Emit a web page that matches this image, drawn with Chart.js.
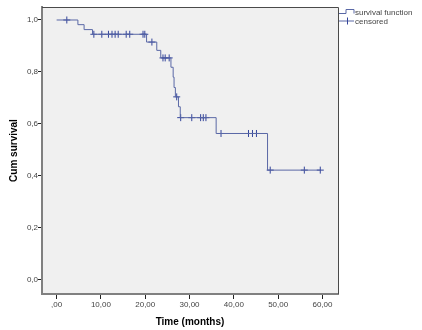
<!DOCTYPE html>
<html>
<head>
<meta charset="utf-8">
<script src="https://cdn.jsdelivr.net/npm/chart.js@4"></script>
<style>
html,body{margin:0;padding:0;background:#fff;}
#wrap{width:422px;height:330px;position:relative;}
</style>
</head>
<body>
<div id="wrap"><canvas id="c" width="422" height="330"></canvas></div>
<script>
// Kaplan-Meier step points (time of event, survival after event); last point = end of follow-up
const eventTimes = [0, 4.8, 6.2, 8.1, 20.3, 22.6, 23.5, 25.8, 26.3, 26.5, 26.8, 27.5, 27.9, 36.0, 47.6, 59.5];
const survival   = [1.0, 0.982, 0.963, 0.945, 0.915, 0.883, 0.854, 0.818, 0.780, 0.740, 0.704, 0.666, 0.624, 0.563, 0.422, 0.422];

// Censored observations
const censorTimes = [2.3, 8.4, 10.2, 11.7, 12.5, 13.2, 13.9, 15.7, 16.5, 19.5, 19.9, 21.5, 24.0, 24.5, 25.4, 27.1, 28.0, 30.5, 32.5, 33.1, 33.7, 37.1, 43.3, 44.2, 45.1, 48.2, 55.9, 59.5];
const censorSurv  = [1.0, 0.945, 0.945, 0.945, 0.945, 0.945, 0.945, 0.945, 0.945, 0.945, 0.945, 0.915, 0.854, 0.854, 0.854, 0.704, 0.624, 0.624, 0.624, 0.624, 0.624, 0.563, 0.563, 0.563, 0.563, 0.422, 0.422, 0.422];

// Tick values and labels
const xTickValues = [0, 10, 20, 30, 40, 50, 60];
const xTickLabels = [",00", "10,00", "20,00", "30,00", "40,00", "50,00", "60,00"];
const yTickValues = [0, 0.2, 0.4, 0.6, 0.8, 1.0];
const yTickLabels = ["0,0", "0,2", "0,4", "0,6", "0,8", "1,0"];

const seriesNames = ["survival function", "censored"];

const lineColor = '#5a68a6';
const censorColor = '#33449a';

const survData = eventTimes.map((t, i) => ({x: t, y: survival[i]}));
const censData = censorTimes.map((t, i) => ({x: t, y: censorSurv[i]}));

const bgPlugin = {
  id: 'plotBg',
  beforeDraw(chart) {
    const {ctx, chartArea: a} = chart;
    ctx.save();
    ctx.fillStyle = '#f0f0f0';
    ctx.fillRect(a.left, a.top, a.right - a.left, a.bottom - a.top);
    ctx.restore();
  },
  afterDraw(chart) {
    const {ctx, chartArea: a} = chart;
    ctx.save();
    ctx.strokeStyle = '#4a4a4a';
    ctx.lineWidth = 1;
    ctx.beginPath();
    ctx.moveTo(a.left, a.top + 0.5);
    ctx.lineTo(a.right + 0.5, a.top + 0.5);
    ctx.lineTo(a.right + 0.5, a.bottom);
    ctx.stroke();

    // legend
    const lx = a.right + 1;
    const y1 = 12.5, y2 = 21.5;
    ctx.strokeStyle = lineColor;
    ctx.beginPath();
    ctx.moveTo(lx, y1 + 1);
    ctx.lineTo(lx + 7, y1 + 1);
    ctx.lineTo(lx + 7, y1 - 3);
    ctx.lineTo(lx + 15, y1 - 3);
    ctx.lineTo(lx + 15, y1 + 1);
    ctx.stroke();
    ctx.beginPath();
    ctx.moveTo(lx, y2 - 0.5);
    ctx.lineTo(lx + 15, y2 - 0.5);
    ctx.stroke();
    ctx.strokeStyle = censorColor;
    ctx.beginPath();
    ctx.moveTo(lx + 8.5, y2 - 4);
    ctx.lineTo(lx + 8.5, y2 + 3);
    ctx.stroke();
    ctx.fillStyle = '#444';
    ctx.font = '8px "Liberation Sans", Arial, sans-serif';
    ctx.textBaseline = 'middle';
    ctx.textAlign = 'left';
    ctx.fillText(seriesNames[0], lx + 16, y1);
    ctx.fillText(seriesNames[1], lx + 16, y2);
    ctx.restore();
  }
};

new Chart(document.getElementById('c'), {
  type: 'line',
  data: {
    datasets: [
      {
        label: seriesNames[0],
        data: survData,
        stepped: true,
        borderColor: lineColor,
        borderWidth: 1,
        pointRadius: 0,
        fill: false
      },
      {
        label: seriesNames[1],
        data: censData,
        showLine: false,
        pointStyle: 'cross',
        pointRadius: 3.5,
        borderColor: censorColor,
        backgroundColor: censorColor,
        pointBorderWidth: 1
      }
    ]
  },
  plugins: [bgPlugin],
  options: {
    responsive: false,
    animation: false,
    devicePixelRatio: 1,
    layout: {padding: {top: 7, right: 84, left: 0, bottom: 0}},
    plugins: {legend: {display: false}, tooltip: {enabled: false}},
    scales: {
      x: {
        type: 'linear',
        min: -3.3,
        max: 63.5,
        afterBuildTicks(s) { s.ticks = xTickValues.map(v => ({value: v})); },
        afterFit(s) { s.height = 36; },
        ticks: {
          autoSkip: false,
          maxRotation: 0,
          padding: 1,
          color: '#444',
          font: {family: '"Liberation Sans", Arial, sans-serif', size: 8},
          callback(v, i) { return xTickLabels[i]; }
        },
        grid: {drawOnChartArea: false, drawTicks: true, tickLength: 5, color: '#222'},
        border: {display: true, color: '#808080', width: 2},
        title: {
          display: true,
          text: 'Time (months)',
          color: '#000',
          font: {family: '"Liberation Sans", Arial, sans-serif', size: 10, weight: 'bold'},
          padding: {top: 0, bottom: 2}
        }
      },
      y: {
        type: 'linear',
        min: -0.055,
        max: 1.05,
        afterBuildTicks(s) { s.ticks = yTickValues.map(v => ({value: v})); },
        afterFit(s) { s.width = 42; },
        ticks: {
          autoSkip: false,
          padding: 0,
          color: '#444',
          font: {family: '"Liberation Sans", Arial, sans-serif', size: 8},
          callback(v, i) { return yTickLabels[i]; }
        },
        grid: {drawOnChartArea: false, drawTicks: true, tickLength: 4, color: '#222'},
        border: {display: true, color: '#808080', width: 2},
        title: {
          display: true,
          text: 'Cum survival',
          color: '#000',
          font: {family: '"Liberation Sans", Arial, sans-serif', size: 10, weight: 'bold'},
          padding: {top: 8, bottom: 0}
        }
      }
    }
  }
});
</script>
</body>
</html>
